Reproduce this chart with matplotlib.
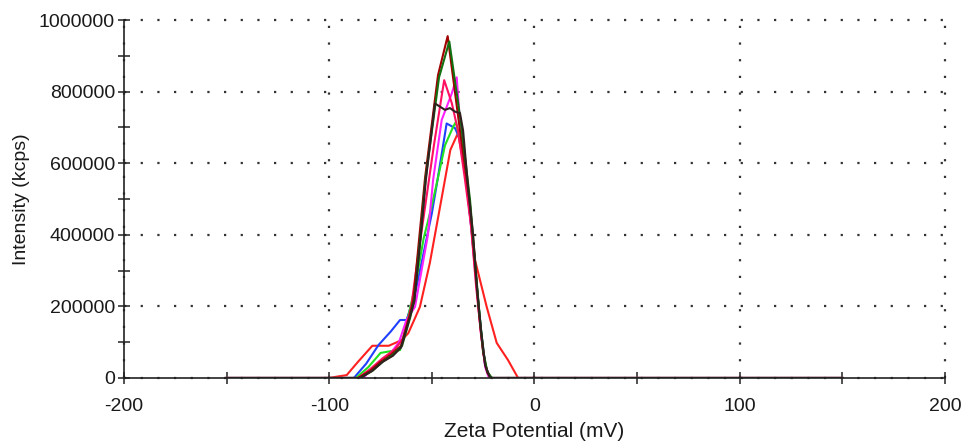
import matplotlib
matplotlib.use('Agg')
import matplotlib.pyplot as plt
from matplotlib.ticker import MultipleLocator, FuncFormatter

plt.rcParams['font.family'] = ['Liberation Sans', 'DejaVu Sans']

# zeta potential (mV) and intensity (kcps) for each run
red_x = [-150, -100, -96, -91.5, -86, -79, -71, -67, -64.7, -61.5, -58, -55.8, -51, -45, -41, -37.3, -33, -29, -23.3, -18.4, -12.9, -8, 150]
red_y = [0, 0, 4e3, 8e3, 45e3, 90e3, 90e3, 100e3, 106e3, 125e3, 170e3, 199e3, 321e3, 510e3, 637e3, 684e3, 553e3, 330e3, 199e3, 98e3, 50e3, 0, 0]

blue_x = [-150, -88, -82, -76, -70, -65.5, -62.3, -58, -54, -50, -47, -42.8, -38.7, -35.5, -33, -30.5, -28, -26, -24, -22, -21, 150]
blue_y = [0, 0, 40e3, 92e3, 130e3, 162e3, 162e3, 240e3, 350e3, 460e3, 562e3, 711e3, 698e3, 656e3, 540e3, 405e3, 250e3, 130e3, 35e3, 5e3, 0, 0]

green_x = [-150, -87, -81, -75, -70, -65.5, -62, -58, -54, -50.5, -47.6, -43.6, -39.6, -38.3, -35.5, -33, -30.5, -28, -26, -24, -22, -20.5, 150]
green_y = [0, 0, 30e3, 70e3, 75e3, 78e3, 160e3, 260e3, 390e3, 470e3, 544e3, 650e3, 702e3, 715e3, 640e3, 540e3, 405e3, 250e3, 130e3, 35e3, 5e3, 0, 0]

magenta_x = [-150, -83.4, -80, -72, -66, -62.5, -58.2, -51.9, -49.4, -45.2, -40.3, -37.9, -35.5, -33, -30.5, -28, -26, -24, -22.5, -21.5, 150]
magenta_y = [0, 0, 22e3, 55e3, 100e3, 160e3, 199e3, 400e3, 553e3, 721e3, 795e3, 840e3, 650e3, 540e3, 400e3, 240e3, 120e3, 30e3, 5e3, 0, 0]

crimson_x = [-150, -86, -80, -74, -68, -64, -60, -57, -53, -49, -44, -40.3, -37.3, -34, -31, -28.5, -26, -24, -22, -21, 150]
crimson_y = [0, 0, 25e3, 55e3, 80e3, 110e3, 200e3, 330e3, 490e3, 650e3, 832e3, 768e3, 692e3, 560e3, 430e3, 260e3, 120e3, 35e3, 5e3, 0, 0]

darkred_x = [-150, -86, -80, -75, -70, -65, -61, -59, -56, -53.3, -47, -42.3, -36.5, -31.5, -29, -27, -25, -23, -21, 150]
darkred_y = [0, 0, 20e3, 45e3, 65e3, 90e3, 170e3, 220e3, 400e3, 560e3, 846e3, 955e3, 700e3, 490e3, 320e3, 180e3, 70e3, 15e3, 0, 0]

darkgreen_x = [-150, -85, -79, -74, -69, -64.5, -60.5, -58.5, -55.5, -53, -46.5, -41.5, -36, -31.4, -29, -27, -25, -23, -20.8, 150]
darkgreen_y = [0, 0, 20e3, 45e3, 65e3, 90e3, 170e3, 220e3, 400e3, 560e3, 840e3, 940e3, 720e3, 497e3, 330e3, 190e3, 75e3, 18e3, 0, 0]

black_x = [-150, -85, -79, -74, -69, -65, -61, -58.5, -55.5, -53, -48.5, -43.6, -41.2, -38.7, -36.3, -34.8, -32, -30, -28, -26, -24, -22, -21, 150]
black_y = [0, 0, 20e3, 45e3, 62e3, 85e3, 165e3, 215e3, 390e3, 550e3, 767e3, 749e3, 754e3, 744e3, 740e3, 692e3, 510e3, 405e3, 250e3, 130e3, 35e3, 5e3, 0, 0]

series = [
    (red_x, red_y, '#ff2020'),
    (blue_x, blue_y, '#2040ff'),
    (green_x, green_y, '#20e020'),
    (magenta_x, magenta_y, '#ff20ff'),
    (crimson_x, crimson_y, '#ff1060'),
    (darkred_x, darkred_y, '#a00000'),
    (darkgreen_x, darkgreen_y, '#107010'),
    (black_x, black_y, '#302020'),
]

fig = plt.figure(figsize=(9.64, 4.45), dpi=100)
ax = fig.add_axes([0.1286, 0.1506, 0.8517, 0.8044])

for x, y, c in series:
    ax.plot(x, y, color=c, lw=1.5, zorder=3)

ax.set_xlim(-200, 200)
ax.set_ylim(0, 1000000)
ax.xaxis.set_major_locator(MultipleLocator(100))
ax.xaxis.set_minor_locator(MultipleLocator(50))
ax.yaxis.set_major_locator(MultipleLocator(200000))
ax.yaxis.set_minor_locator(MultipleLocator(100000))
ax.yaxis.set_major_formatter(FuncFormatter(lambda v, p: '%d' % v))
ax.xaxis.set_major_formatter(FuncFormatter(lambda v, p: '%d' % v))

ax.grid(True, which='major', color='#333333', linestyle=(0, (1, 6.5)), lw=1.6, clip_on=False)
ax.set_axisbelow(True)

for s in ['top', 'right']:
    ax.spines[s].set_visible(False)
for s in ['left', 'bottom']:
    ax.spines[s].set_color('#222222')
    ax.spines[s].set_linewidth(1.2)
    ax.spines[s].set_zorder(4)

ax.tick_params(which='both', direction='inout', color='#222222', width=1.1)
ax.tick_params(which='major', length=9, labelsize=14, labelcolor='#1a1a1a')
ax.tick_params(which='minor', length=9)
ax.tick_params(axis='x', pad=10)
ax.tick_params(axis='y', pad=2)

ax.set_xlabel('Zeta Potential (mV)', fontsize=15, labelpad=5, color='#1a1a1a')
ax.set_ylabel('Intensity (kcps)', fontsize=14, labelpad=6, color='#1a1a1a')

fig.savefig('out.png', dpi=100)
